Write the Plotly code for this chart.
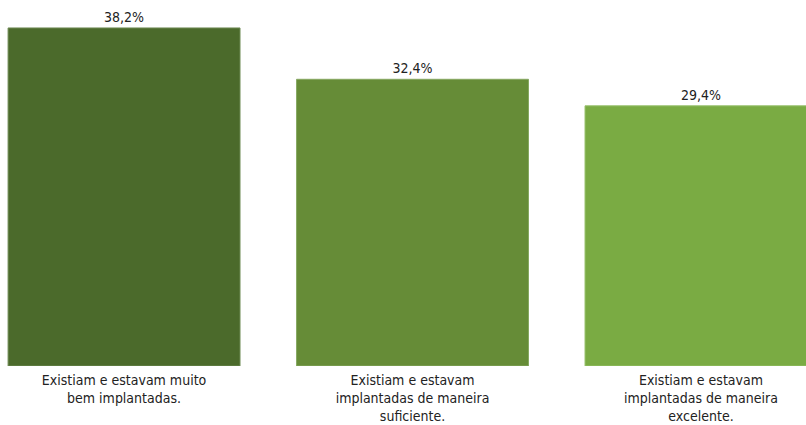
import plotly.graph_objects as go

categories = [
    "Existiam e estavam muito<br>bem implantadas.",
    "Existiam e estavam<br>implantadas de maneira<br>suficiente.",
    "Existiam e estavam<br>implantadas de maneira<br>excelente.",
]
values = [38.2, 32.4, 29.4]
labels = ["38,2%", "32,4%", "29,4%"]
colors = ["#4b6a2b", "#668c37", "#7aab43"]
outline = ["#6f8a55", "#86a862", "#97c06a"]

fig = go.Figure(
    go.Bar(
        x=[0, 1, 2],
        y=values,
        text=labels,
        textposition="outside",
        cliponaxis=False,
        marker=dict(color=colors, line=dict(color=outline, width=1)),
        textfont=dict(color="#222222", size=14),
    )
)
fig.update_layout(
    width=806,
    height=425,
    margin=dict(l=0, r=0, t=0, b=59),
    plot_bgcolor="white",
    paper_bgcolor="white",
    bargap=0.196,
    showlegend=False,
    font=dict(family="DejaVu Sans Condensed, DejaVu Sans", size=14, color="#222222"),
    xaxis=dict(
        range=[-0.43, 2.364],
        tickmode="array",
        tickvals=[0, 1, 2],
        ticktext=categories,
        showgrid=False,
        zeroline=False,
        showline=False,
        ticks="",
        ticklabelstandoff=4,
        automargin=False,
    ),
    yaxis=dict(range=[0, 41.36], visible=False),
)
fig.write_html(
    "out.html",
    config={"displayModeBar": False},
    post_script="document.body.style.margin='0';document.body.style.overflow='hidden';",
)
